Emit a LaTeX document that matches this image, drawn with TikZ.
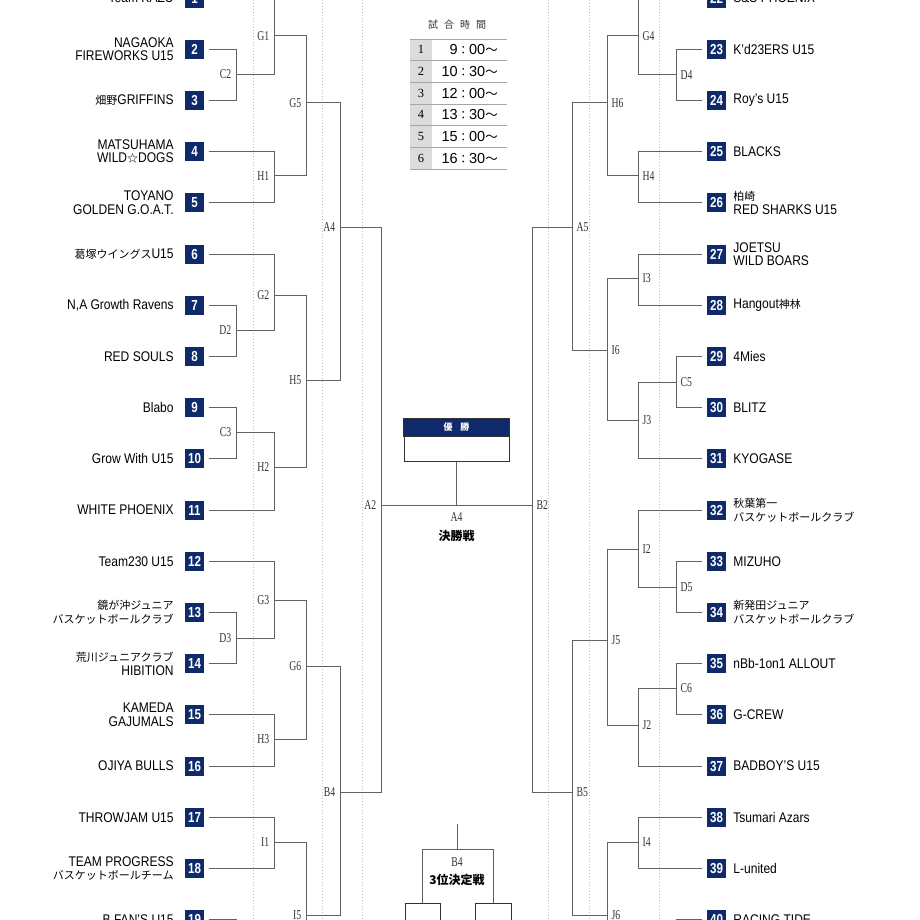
\documentclass[tikz,border=0pt]{standalone}
\usepackage{fontspec}
\newfontfamily\tnf[FakeStretch=0.86]{Liberation Sans}
\newfontfamily\numf[FakeStretch=0.8]{Liberation Sans}
\newfontfamily\lbf[FakeStretch=0.72]{Liberation Serif}
\newfontfamily\srf{Liberation Serif}
\newfontfamily\jpf{Noto Sans CJK JP}
\newfontfamily\tmf{Liberation Sans}
\newcommand\jp[1]{{\jpf\fontsize{11}{13.5}\selectfont #1}}
\newcommand\tmx[2]{{\tmf #1}{\jpf\fontsize{11.5}{11.5}\selectfont ：}{\tmf #2}{\jpf\fontsize{12.5}{12.5}\selectfont ～}}
\definecolor{navy}{HTML}{0E2A6B}
\definecolor{linec}{HTML}{626262}
\definecolor{dotc}{HTML}{BDBDBD}
\definecolor{labc}{HTML}{333333}
\definecolor{cellg}{HTML}{DCDCDC}
\tikzset{
  tbox/.style={fill=navy, text=white, minimum size=19pt, inner sep=0pt, font=\numf\bfseries\fontsize{14.5}{14.5}\selectfont},
  lname/.style={anchor=east, align=right, inner sep=0pt, font=\tnf\fontsize{14}{13.5}\selectfont, text=black},
  rname/.style={anchor=west, align=left, inner sep=0pt, font=\tnf\fontsize{14}{13.5}\selectfont, text=black},
  ml/.style={anchor=east, inner sep=0pt, xshift=-4.5pt, font=\lbf\fontsize{13.5}{13.5}\selectfont, text=labc},
  mr/.style={anchor=west, inner sep=0pt, xshift=4.5pt, font=\lbf\fontsize{13.5}{13.5}\selectfont, text=labc},
  mc/.style={inner sep=0pt, font=\lbf\fontsize{13.5}{13.5}\selectfont, text=labc},
  br/.style={draw=linec, line width=1pt},
  tl/.style={br, shorten <=4.5pt},
  dotl/.style={draw=dotc, line width=0.9pt, dash pattern=on 1.2pt off 1.8pt},
  tabl/.style={draw=gray!70, line width=0.9pt},
  jpb/.style={inner sep=0pt, font=\jpf\bfseries\fontsize{12}{12}\selectfont},
  frame/.style={draw=labc, line width=1pt, inner sep=0pt}
}
\begin{document}
\begin{tikzpicture}[x=1pt,y=-1pt]
\useasboundingbox (0,0) rectangle (920,920);
\fill[white] (0,0) rectangle (920,920);
\clip (0,0) rectangle (920,920);
% dotted guides
\foreach \xx in {253,322,362,548,589,659} \draw[dotl] (\xx,0) -- (\xx,920);
% team boxes
\foreach \n in {1,...,19} \node[tbox] (t\n) at (194.5,{-1.9+51.2*(\n-1)}) {\n};
\foreach \n in {22,...,40} \node[tbox] (t\n) at (716.5,{-1.9+51.2*(\n-22)}) {\n};
% left names
\node[lname] (n1) at ([xshift=-11pt]t1.west) {Team KAZU};
\node[lname] (n2) at ([xshift=-11pt]t2.west) {NAGAOKA\\FIREWORKS U15};
\node[lname] (n3) at ([xshift=-11pt]t3.west) {\jp{畑野}GRIFFINS};
\node[lname] (n4) at ([xshift=-11pt]t4.west) {MATSUHAMA\\WILD\jp{☆}DOGS};
\node[lname] (n5) at ([xshift=-11pt]t5.west) {TOYANO\\GOLDEN G.O.A.T.};
\node[lname] (n6) at ([xshift=-11pt]t6.west) {\jp{葛塚ウイングス}U15};
\node[lname] (n7) at ([xshift=-11pt]t7.west) {N,A Growth Ravens};
\node[lname] (n8) at ([xshift=-11pt]t8.west) {RED SOULS};
\node[lname] (n9) at ([xshift=-11pt]t9.west) {Blabo};
\node[lname] (n10) at ([xshift=-11pt]t10.west) {Grow With U15};
\node[lname] (n11) at ([xshift=-11pt]t11.west) {WHITE PHOENIX};
\node[lname] (n12) at ([xshift=-11pt]t12.west) {Team230 U15};
\node[lname] (n13) at ([xshift=-11pt]t13.west) {\jp{鏡が沖ジュニア}\\\jp{バスケットボールクラブ}};
\node[lname] (n14) at ([xshift=-11pt]t14.west) {\jp{荒川ジュニアクラブ}\\HIBITION};
\node[lname] (n15) at ([xshift=-11pt]t15.west) {KAMEDA\\GAJUMALS};
\node[lname] (n16) at ([xshift=-11pt]t16.west) {OJIYA BULLS};
\node[lname] (n17) at ([xshift=-11pt]t17.west) {THROWJAM U15};
\node[lname] (n18) at ([xshift=-11pt]t18.west) {TEAM PROGRESS\\\jp{バスケットボールチーム}};
\node[lname] (n19) at ([xshift=-11pt]t19.west) {B.FAN’S U15};
% right names
\node[rname] (n22) at ([xshift=7pt]t22.east) {S\&S PHOENIX};
\node[rname] (n23) at ([xshift=7pt]t23.east) {K’d23ERS U15};
\node[rname] (n24) at ([xshift=7pt]t24.east) {Roy’s U15};
\node[rname] (n25) at ([xshift=7pt]t25.east) {BLACKS};
\node[rname] (n26) at ([xshift=7pt]t26.east) {\jp{柏崎}\\RED SHARKS U15};
\node[rname] (n27) at ([xshift=7pt]t27.east) {JOETSU\\WILD BOARS};
\node[rname] (n28) at ([xshift=7pt]t28.east) {Hangout\jp{神林}};
\node[rname] (n29) at ([xshift=7pt]t29.east) {4Mies};
\node[rname] (n30) at ([xshift=7pt]t30.east) {BLITZ};
\node[rname] (n31) at ([xshift=7pt]t31.east) {KYOGASE};
\node[rname] (n32) at ([xshift=7pt]t32.east) {\jp{秋葉第一}\\\jp{バスケットボールクラブ}};
\node[rname] (n33) at ([xshift=7pt]t33.east) {MIZUHO};
\node[rname] (n34) at ([xshift=7pt]t34.east) {\jp{新発田ジュニア}\\\jp{バスケットボールクラブ}};
\node[rname] (n35) at ([xshift=7pt]t35.east) {nBb-1on1 ALLOUT};
\node[rname] (n36) at ([xshift=7pt]t36.east) {G-CREW};
\node[rname] (n37) at ([xshift=7pt]t37.east) {BADBOY’S U15};
\node[rname] (n38) at ([xshift=7pt]t38.east) {Tsumari Azars};
\node[rname] (n39) at ([xshift=7pt]t39.east) {L-united};
\node[rname] (n40) at ([xshift=7pt]t40.east) {RACING TIDE};
% left match points
\coordinate (G1) at (274,36);   \coordinate (C2) at (236,74.5);
\coordinate (H1) at (274,176);  \coordinate (G5) at (306,103);
\coordinate (A4) at (340,227);  \coordinate (G2) at (274,295);
\coordinate (D2) at (236,330);  \coordinate (C3) at (236,432);
\coordinate (H2) at (274,467);  \coordinate (H5) at (306,380);
\coordinate (A2) at (381,505);  \coordinate (G3) at (274,600);
\coordinate (D3) at (236,638);  \coordinate (H3) at (274,739);
\coordinate (G6) at (306,666);  \coordinate (B4) at (340,792);
\coordinate (I1) at (274,842);  \coordinate (I5) at (306,915);
\coordinate (I5b) at (306,935); \coordinate (x19) at (236,935);
% right match points
\coordinate (G4) at (638,36);   \coordinate (D4) at (676,75);
\coordinate (H4) at (638,176);  \coordinate (H6) at (607,103);
\coordinate (A5) at (572,227);  \coordinate (I3) at (638,278);
\coordinate (C5) at (676,382);  \coordinate (J3) at (638,420);
\coordinate (I6) at (607,350);  \coordinate (B2) at (532,505);
\coordinate (I2) at (638,549);  \coordinate (D5) at (676,587);
\coordinate (C6) at (676,688);  \coordinate (J2) at (638,725);
\coordinate (J5) at (607,640);  \coordinate (B5) at (572,792);
\coordinate (I4) at (638,842);  \coordinate (J6) at (607,915);
\coordinate (J6b) at (607,935); \coordinate (x40) at (676,935);
\coordinate (F) at (456.5,505);
% left bracket
\draw[tl] (t1.east) -| (G1);
\draw[tl] (t2.east) -| (C2); \draw[tl] (t3.east) -| (C2);
\draw[br] (C2) -| (G1);
\draw[tl] (t4.east) -| (H1); \draw[tl] (t5.east) -| (H1);
\draw[br] (G1) -| (G5); \draw[br] (H1) -| (G5);
\draw[br] (G5) -| (A4);
\draw[tl] (t6.east) -| (G2);
\draw[tl] (t7.east) -| (D2); \draw[tl] (t8.east) -| (D2);
\draw[br] (D2) -| (G2);
\draw[tl] (t9.east) -| (C3); \draw[tl] (t10.east) -| (C3);
\draw[br] (C3) -| (H2); \draw[tl] (t11.east) -| (H2);
\draw[br] (G2) -| (H5); \draw[br] (H2) -| (H5);
\draw[br] (H5) -| (A4);
\draw[br] (A4) -| (A2);
\draw[tl] (t12.east) -| (G3);
\draw[tl] (t13.east) -| (D3); \draw[tl] (t14.east) -| (D3);
\draw[br] (D3) -| (G3);
\draw[tl] (t15.east) -| (H3); \draw[tl] (t16.east) -| (H3);
\draw[br] (G3) -| (G6); \draw[br] (H3) -| (G6);
\draw[br] (G6) -| (B4);
\draw[tl] (t17.east) -| (I1); \draw[tl] (t18.east) -| (I1);
\draw[br] (I1) -| (I5); \draw[br] (I5) -- (I5b);
\draw[br] (I5) -| (B4);
\draw[br] (B4) -| (A2);
\draw[tl] (t19.east) -| (x19);
% right bracket
\draw[tl] (t22.west) -| (G4);
\draw[tl] (t23.west) -| (D4); \draw[tl] (t24.west) -| (D4);
\draw[br] (D4) -| (G4);
\draw[tl] (t25.west) -| (H4); \draw[tl] (t26.west) -| (H4);
\draw[br] (G4) -| (H6); \draw[br] (H4) -| (H6);
\draw[br] (H6) -| (A5);
\draw[tl] (t27.west) -| (I3); \draw[tl] (t28.west) -| (I3);
\draw[tl] (t29.west) -| (C5); \draw[tl] (t30.west) -| (C5);
\draw[br] (C5) -| (J3); \draw[tl] (t31.west) -| (J3);
\draw[br] (I3) -| (I6); \draw[br] (J3) -| (I6);
\draw[br] (I6) -| (A5);
\draw[br] (A5) -| (B2);
\draw[tl] (t32.west) -| (I2);
\draw[tl] (t33.west) -| (D5); \draw[tl] (t34.west) -| (D5);
\draw[br] (D5) -| (I2);
\draw[tl] (t35.west) -| (C6); \draw[tl] (t36.west) -| (C6);
\draw[br] (C6) -| (J2); \draw[tl] (t37.west) -| (J2);
\draw[br] (I2) -| (J5); \draw[br] (J2) -| (J5);
\draw[br] (J5) -| (B5);
\draw[tl] (t38.west) -| (I4); \draw[tl] (t39.west) -| (I4);
\draw[br] (I4) -| (J6); \draw[br] (J6) -- (J6b);
\draw[br] (J6) -| (B5);
\draw[br] (B5) -| (B2);
\draw[tl] (t40.west) -| (x40);
% final
\draw[br] (A2) -- (B2);
\node[fill=navy, text=white, minimum width=105pt, minimum height=17pt, inner sep=0pt, font=\jpf\bfseries\fontsize{9}{9}\selectfont] (winh) at (456.5,427.5) {優\hspace{8pt}勝};
\node[frame, minimum width=105pt, minimum height=25pt, anchor=north] (win) at (winh.south) {};
\draw[frame] (winh.north west) rectangle (winh.south east);
\draw[br] (win.south) -- (F);
% left labels
\node[ml] (lG1) at (G1) {G1}; \node[ml] (lC2) at (C2) {C2};
\node[ml] (lH1) at (H1) {H1}; \node[ml] (lG5) at (G5) {G5};
\node[ml] (lA4) at (A4) {A4}; \node[ml] (lG2) at (G2) {G2};
\node[ml] (lD2) at (D2) {D2}; \node[ml] (lC3) at (C3) {C3};
\node[ml] (lH2) at (H2) {H2}; \node[ml] (lH5) at (H5) {H5};
\node[ml] (lA2) at (A2) {A2}; \node[ml] (lG3) at (G3) {G3};
\node[ml] (lD3) at (D3) {D3}; \node[ml] (lH3) at (H3) {H3};
\node[ml] (lG6) at (G6) {G6}; \node[ml] (lB4) at (B4) {B4};
\node[ml] (lI1) at (I1) {I1}; \node[ml] (lI5) at (I5) {I5};
% right labels
\node[mr] (lG4) at (G4) {G4}; \node[mr] (lD4) at (D4) {D4};
\node[mr] (lH4) at (H4) {H4}; \node[mr] (lH6) at (H6) {H6};
\node[mr] (lA5) at (A5) {A5}; \node[mr] (lI3) at (I3) {I3};
\node[mr] (lC5) at (C5) {C5}; \node[mr] (lJ3) at (J3) {J3};
\node[mr] (lI6) at (I6) {I6}; \node[mr] (lB2) at (B2) {B2};
\node[mr] (lI2) at (I2) {I2}; \node[mr] (lD5) at (D5) {D5};
\node[mr] (lC6) at (C6) {C6}; \node[mr] (lJ2) at (J2) {J2};
\node[mr] (lJ5) at (J5) {J5}; \node[mr] (lB5) at (B5) {B5};
\node[mr] (lI4) at (I4) {I4}; \node[mr] (lJ6) at (J6) {J6};
% final labels
\node[mc] (lF) at (456.5,517) {A4};
\node[jpb] (kessho) at (456.5,536) {決勝戦};
% third place
\coordinate (T3a) at (457,824);
\coordinate (T3) at (457,849);
\node[frame, minimum width=35pt, minimum height=30pt, anchor=north] (bl) at (422.5,903) {};
\node[frame, minimum width=36pt, minimum height=30pt, anchor=north] (bx) at (493,903) {};
\draw[br] (T3a) -- (T3);
\draw[br] (bl.north) |- (T3);
\draw[br] (bx.north) |- (T3);
\node[mc] (lT3) at (457,862) {B4};
\node[jpb] (sanI) at (457,880) {3位決定戦};
% time table
\node[inner sep=0pt, font=\jpf\fontsize{10}{10}\selectfont, text=labc] (ttl) at (457,25) {試\hspace{6pt}合\hspace{6pt}時\hspace{6pt}間};
\foreach \i/\h/\m in {1/9/00,2/10/30,3/12/00,4/13/30,5/15/00,6/16/30} {
  \node[fill=cellg, minimum width=22pt, minimum height=21.67pt, inner sep=0pt, font=\srf\fontsize{12.5}{12.5}\selectfont] (tn\i) at (421,{39+21.67*(\i-0.5)}) {\i};
  \node[anchor=east, inner sep=0pt, font=\tmf\fontsize{14.5}{14.5}\selectfont] (tt\i) at (498,{39+21.67*(\i-0.5)}) {\tmx{\h}{\m}};
}
\foreach \i in {0,...,6} \draw[tabl] (410,{39+21.67*\i}) -- (507,{39+21.67*\i});
\end{tikzpicture}
\end{document}
